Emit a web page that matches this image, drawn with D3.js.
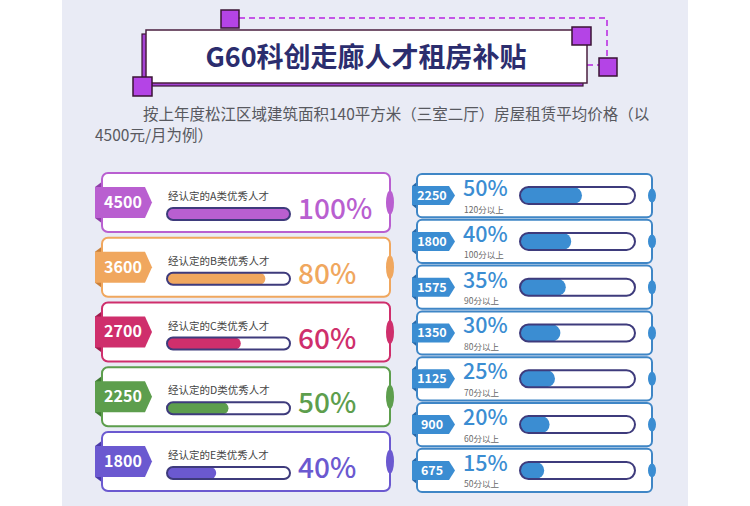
<!DOCTYPE html>
<html>
<head>
<meta http-equiv="Content-Type" content="text/html; charset=utf-8" />
<title>G60科创走廊人才租房补贴</title>
<style>
  body { margin: 0; background: #fff; font-family: "Noto Sans CJK SC", "Noto Sans", sans-serif; }
  svg text { font-family: "Noto Sans CJK SC", "Noto Sans", sans-serif; }
</style>
</head>
<body>
<script src="https://d3js.org/d3.v7.min.js"></script>
<script>
// left column: talent grades
var grades = ["A", "B", "C", "D", "E"];
var gradeAmounts = [4500, 3600, 2700, 2250, 1800];
var gradePct = [100, 80, 60, 50, 40];
var gradeColors = ["#b95fd0", "#f0a75e", "#cf2f6c", "#5d9e4d", "#6b59d0"];
var gradeDark = ["#8f3fa8", "#c9803a", "#9e1c4c", "#3f7a33", "#4a3aa8"];

// right column: score bands
var scores = [120, 100, 90, 80, 70, 60, 50];
var scoreAmounts = [2250, 1800, 1575, 1350, 1125, 900, 675];
var scorePct = [50, 40, 35, 30, 25, 20, 15];

var title = "G60科创走廊人才租房补贴";
var subLine1 = "按上年度松江区域建筑面积140平方米（三室二厅）房屋租赁平均价格（以";
var subLine2 = "4500元/月为例）";

var W = 750, H = 506;
var blue = "#3b8dd2", blueDark = "#2868a8", navy = "#3e3b7c";

var svg = d3.select("body").append("svg")
    .attr("width", W).attr("height", H);

// panel background
svg.append("rect").attr("x", 62).attr("y", 0).attr("width", 626).attr("height", H)
    .attr("fill", "#e9ebf5");

// ---- title banner
var head = svg.append("g");
head.append("path")
    .attr("d", "M239,18 H607 V58 M587,65 H599")
    .attr("fill", "none").attr("stroke", "#c455e6")
    .attr("stroke-width", 2).attr("stroke-dasharray", "6,4");
head.append("rect").attr("x", 142).attr("y", 34).attr("width", 441).attr("height", 52)
    .attr("fill", "#a542d4").attr("stroke", "#3a1535").attr("stroke-width", 1.2);
head.append("rect").attr("x", 146).attr("y", 30).attr("width", 441).attr("height", 53)
    .attr("fill", "#fff").attr("stroke", "#4a1f3f").attr("stroke-width", 1.5);
[[221, 10, 18, 18], [133, 77, 19, 19], [572, 27, 19, 18], [599, 58, 18, 18]].forEach(function(s) {
  head.append("rect").attr("x", s[0]).attr("y", s[1]).attr("width", s[2]).attr("height", s[3])
      .attr("fill", "#b444e6").attr("stroke", "#3a1535").attr("stroke-width", 1.5);
});
head.append("text").attr("x", 366).attr("y", 67)
    .attr("text-anchor", "middle").attr("font-size", 27).attr("font-weight", "bold")
    .attr("fill", "#2b2d6e").text(title);

svg.append("text").attr("x", 143).attr("y", 120).attr("font-size", 15.5)
    .attr("fill", "#58595f").text(subLine1);
svg.append("text").attr("x", 95).attr("y", 141).attr("font-size", 15.5)
    .attr("fill", "#58595f").text(subLine2);

// ---- left cards
var yL = d3.scaleBand().domain(grades).range([173, 491]).paddingInner(0.09).paddingOuter(0);
var xL = d3.scaleLinear().domain([0, 100]).range([0, 123]);
var hL = yL.bandwidth();

var left = svg.selectAll(".lcard").data(grades).enter().append("g")
    .attr("class", "lcard")
    .attr("transform", function(d) { return "translate(0," + yL(d) + ")"; });

var tT = hL / 2 - 15.5, tB = hL / 2 + 15.5;
left.append("polygon")
    .attr("points", [[95, tT], [103, tT - 6], [103, tB + 6], [95, tB]].join(" "))
    .attr("fill", function(d, i) { return gradeDark[i]; });
left.append("rect").attr("x", 102).attr("y", 0).attr("width", 288).attr("height", hL)
    .attr("rx", 6).attr("fill", "#fff")
    .attr("stroke", function(d, i) { return gradeColors[i]; }).attr("stroke-width", 2);
left.append("ellipse").attr("cx", 390).attr("cy", hL / 2).attr("rx", 4).attr("ry", 12)
    .attr("fill", function(d, i) { return gradeColors[i]; });
left.append("path")
    .attr("d", "M95," + tT + " H145 L152," + (hL / 2) + " L145," + tB + " H95 Z")
    .attr("fill", function(d, i) { return gradeColors[i]; });
left.append("text").attr("x", 123).attr("y", hL / 2 + 5.5)
    .attr("text-anchor", "middle").attr("font-size", 16).attr("font-weight", "bold")
    .attr("fill", "#fff").text(function(d, i) { return gradeAmounts[i]; });
left.append("text").attr("x", 168).attr("y", 27).attr("font-size", 10.5)
    .attr("fill", "#444").text(function(d) { return "经认定的" + d + "类优秀人才"; });
left.append("rect").attr("x", 167).attr("y", 35).attr("width", xL(100)).attr("height", 12)
    .attr("rx", 6).attr("fill", "#fff");
left.append("rect").attr("x", 167).attr("y", 35)
    .attr("width", function(d, i) { return xL(gradePct[i]); }).attr("height", 12)
    .attr("rx", 6).attr("fill", function(d, i) { return gradeColors[i]; });
left.append("rect").attr("x", 167).attr("y", 35).attr("width", xL(100)).attr("height", 12)
    .attr("rx", 6).attr("fill", "none").attr("stroke", navy).attr("stroke-width", 2);
left.append("text").attr("x", 298).attr("y", 46).attr("font-size", 28).attr("font-weight", 500)
    .attr("fill", function(d, i) { return gradeColors[i]; })
    .text(function(d, i) { return gradePct[i] + "%"; });

// ---- right cards
var yR = d3.scaleBand().domain(scores).range([174, 492]).paddingInner(0.058).paddingOuter(0);
var xR = d3.scaleLinear().domain([0, 100]).range([8, 116]);
var hR = yR.bandwidth();

var right = svg.selectAll(".rcard").data(scores).enter().append("g")
    .attr("class", "rcard")
    .attr("transform", function(d) { return "translate(0," + yR(d) + ")"; });

var rT = hR / 2 - 9.5, rB = hR / 2 + 9.5;
right.append("polygon")
    .attr("points", [[412, rT], [418, rT - 5], [418, rB + 5], [412, rB]].join(" "))
    .attr("fill", blueDark);
right.append("rect").attr("x", 417).attr("y", 0).attr("width", 235).attr("height", hR)
    .attr("rx", 5).attr("fill", "#fff").attr("stroke", "#3f86c6").attr("stroke-width", 2);
right.append("ellipse").attr("cx", 652).attr("cy", hR / 2).attr("rx", 4).attr("ry", 7)
    .attr("fill", blue);
right.append("path")
    .attr("d", "M412," + rT + " H449 L455," + (hR / 2) + " L449," + rB + " H412 Z")
    .attr("fill", blue);
right.append("text").attr("x", 432).attr("y", hR / 2 + 4.5)
    .attr("text-anchor", "middle").attr("font-size", 12.5).attr("font-weight", "bold")
    .attr("fill", "#fff").text(function(d, i) { return scoreAmounts[i]; });
right.append("text").attr("x", 463).attr("y", 22).attr("font-size", 21.5).attr("font-weight", 500)
    .attr("fill", blue).text(function(d, i) { return scorePct[i] + "%"; });
right.append("text").attr("x", 464).attr("y", 38.5).attr("font-size", 8.5)
    .attr("fill", "#6a6a6a").text(function(d) { return d + "分以上"; });
right.append("rect").attr("x", 520).attr("y", hR / 2 - 8.5).attr("width", 115).attr("height", 17)
    .attr("rx", 8.5).attr("fill", "#fff");
right.append("rect").attr("x", 520).attr("y", hR / 2 - 8.5)
    .attr("width", function(d, i) { return xR(scorePct[i]); }).attr("height", 17)
    .attr("rx", 8.5).attr("fill", blue);
right.append("rect").attr("x", 520).attr("y", hR / 2 - 8.5).attr("width", 115).attr("height", 17)
    .attr("rx", 8.5).attr("fill", "none").attr("stroke", navy).attr("stroke-width", 2);
</script>
</body>
</html>
